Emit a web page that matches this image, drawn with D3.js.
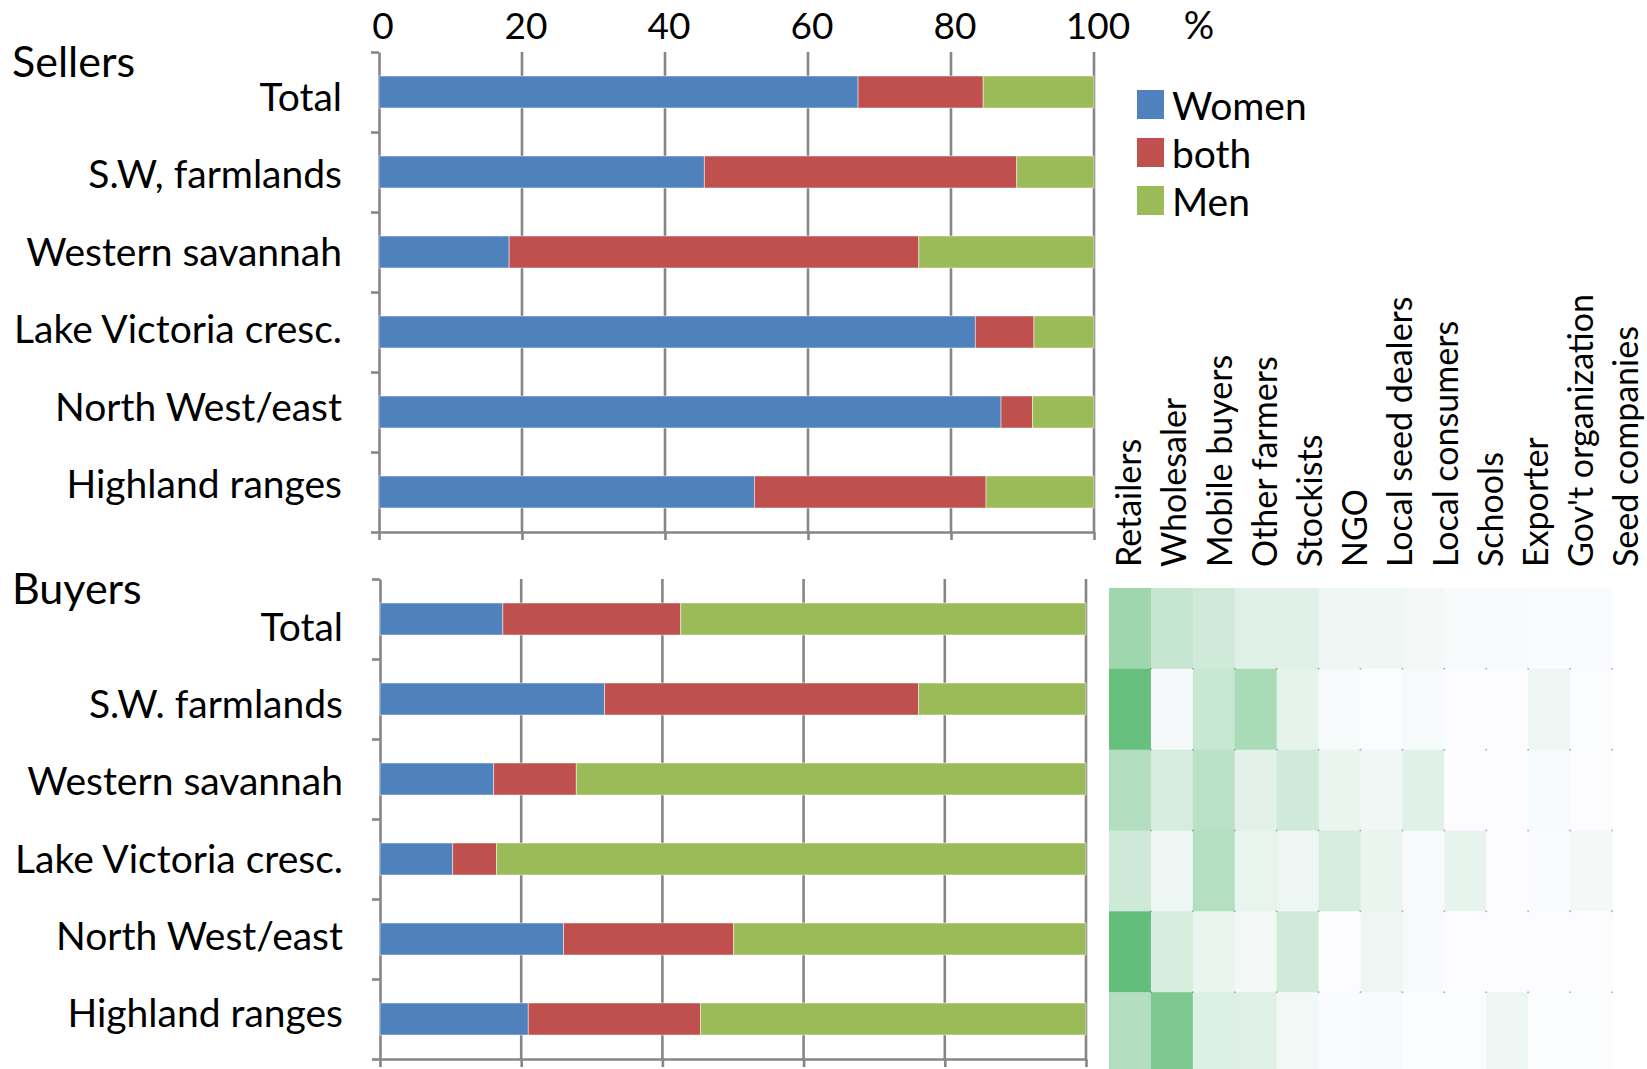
<!DOCTYPE html>
<html>
<head>
<meta charset="utf-8">
<script src="https://cdn.jsdelivr.net/npm/d3@7"></script>
<style>
  body { margin: 0; background: #fff; }
  svg text { font-family: Lato, "Open Sans", sans-serif; fill: #000; }
</style>
</head>
<body>
<div id="chart"></div>
<script>
// categories
var sellerRegions = ["Total", "S.W, farmlands", "Western savannah", "Lake Victoria cresc.", "North West/east", "Highland ranges"];
var buyerRegions = ["Total", "S.W. farmlands", "Western savannah", "Lake Victoria cresc.", "North West/east", "Highland ranges"];
var groups = ["Women", "both", "Men"];
var groupColors = ["#4F81BD", "#C0504D", "#9BBB59"];
var xTicks = [0, 20, 40, 60, 80, 100];

// sellers, % per region
var sellersWomen = [67.0, 45.5, 18.2, 83.4, 87.0, 52.5];
var sellersBoth  = [17.5, 43.7, 57.3, 8.2, 4.4, 32.4];
var sellersMen   = [15.5, 10.8, 24.5, 8.4, 8.6, 15.1];

// buyers, % per region
var buyersWomen = [17.4, 31.8, 16.1, 10.3, 26.0, 21.0];
var buyersBoth  = [25.2, 44.5, 11.7, 6.2, 24.1, 24.4];
var buyersMen   = [57.4, 23.7, 72.2, 83.5, 49.9, 54.6];

// buyer types (heat map columns)
var buyerTypes = ["Retailers", "Wholesaler", "Mobile buyers", "Other farmers", "Stockists", "NGO",
  "Local seed dealers", "Local consumers", "Schools", "Exporter", "Gov't organization", "Seed companies"];

// heat map shares, one row per buyer region
var heatTotal    = [61, 35, 29, 19, 18, 9, 8.5, 6, 4, 3, 2, 1];
var heatSW       = [97, 4.5, 34, 54, 15, 4, 0.5, 3, 0, 0, 9, 0.5];
var heatWestern  = [48, 25, 44, 17, 29, 11, 8, 18, 0, 0, 3, 0];
var heatLake     = [30, 9, 47, 13, 9, 25, 12, 3, 14, 0, 1, 5];
var heatNorth    = [100, 25, 11, 6, 29, 0, 10, 3, 0, 0, 0, 0];
var heatHighland = [48, 83, 20, 19, 7, 1, 3, 0.5, 0.5, 9, 0.5, 0.5];
var heatRows = [heatTotal, heatSW, heatWestern, heatLake, heatNorth, heatHighland];

var width = 1647, height = 1069;
var gridColor = "#868686";

var svg = d3.select("#chart").append("svg")
    .attr("width", width)
    .attr("height", height);

// build stacked rows for a panel
function stackRows(regions, women, both, men) {
  var rows = regions.map(function(r, i) {
    return { region: r, Women: women[i], both: both[i], Men: men[i] };
  });
  return d3.stack().keys(groups)(rows);
}

function panel(opts) {
  var x = d3.scaleLinear().domain([0, 100]).range([opts.x0, opts.x1]);
  var y = d3.scaleBand().domain(opts.regions)
      .range([opts.top, opts.bottom])
      .paddingInner(0.6).paddingOuter(0.3);
  // labels sit a bit tighter than the bars
  var yl = d3.scalePoint().domain(opts.regions).range(opts.labelRange);

  var g = svg.append("g");

  // vertical gridlines
  g.append("g").selectAll("line")
      .data(xTicks.slice(1))
      .enter().append("line")
      .attr("x1", d => x(d)).attr("x2", d => x(d))
      .attr("y1", opts.top).attr("y2", opts.bottom)
      .attr("stroke", gridColor)
      .attr("stroke-width", 2.6);

  // bottom axis, tick marks only
  var xAxis = g.append("g")
      .attr("transform", `translate(0, ${opts.bottom})`)
      .call(d3.axisBottom(x).tickValues(xTicks).tickSize(8).tickSizeOuter(0).tickFormat(""));
  xAxis.selectAll("path, line").attr("stroke", gridColor).attr("stroke-width", 2.6);

  // left axis with ticks between categories
  var cat = d3.scaleLinear().domain([0, opts.regions.length]).range([opts.top, opts.bottom]);
  var yAxis = g.append("g")
      .attr("transform", `translate(${opts.x0}, 0)`)
      .call(d3.axisLeft(cat).ticks(opts.regions.length).tickSize(8).tickSizeOuter(0).tickFormat(""));
  yAxis.selectAll("path, line").attr("stroke", gridColor).attr("stroke-width", 2.6);

  // stacked bars
  var layers = g.append("g").selectAll("g")
      .data(stackRows(opts.regions, opts.women, opts.both, opts.men))
      .enter().append("g")
      .attr("fill", (d, i) => groupColors[i]);

  layers.selectAll("rect")
      .data(d => d)
      .enter().append("rect")
      .attr("x", d => x(d[0]))
      .attr("y", d => y(d.data.region))
      .attr("width", d => x(d[1]) - x(d[0]))
      .attr("height", y.bandwidth())
      .attr("stroke", "#fff")
      .attr("stroke-width", 0.8)
      .attr("stroke-opacity", 0.6);

  // category labels
  g.append("g").selectAll("text")
      .data(opts.regions)
      .enter().append("text")
      .attr("x", opts.x0 - 37)
      .attr("y", d => yl(d))
      .attr("text-anchor", "end")
      .attr("font-size", 39)
      .text(d => d);

  // panel title
  g.append("text")
      .attr("x", 12)
      .attr("y", opts.top + 25)
      .attr("font-size", 43)
      .text(opts.title);

  return x;
}

var xTop = panel({
  title: "Sellers", regions: sellerRegions,
  women: sellersWomen, both: sellersBoth, men: sellersMen,
  x0: 379, x1: 1094, top: 52, bottom: 532, labelRange: [111, 498]
});

panel({
  title: "Buyers", regions: buyerRegions,
  women: buyersWomen, both: buyersBoth, men: buyersMen,
  x0: 380, x1: 1086, top: 579, bottom: 1059, labelRange: [641, 1027]
});

// top tick labels (Excel draws them a little right of the gridline)
svg.append("g").selectAll("text")
    .data(xTicks)
    .enter().append("text")
    .attr("x", d => xTop(d) + 4)
    .attr("y", 39)
    .attr("text-anchor", "middle")
    .attr("font-size", 37)
    .text(d => d);

svg.append("text")
    .attr("x", 1199)
    .attr("y", 39)
    .attr("text-anchor", "middle")
    .attr("font-size", 38)
    .text("%");

// legend
var legend = svg.append("g").selectAll("g")
    .data(groups)
    .enter().append("g")
    .attr("transform", (d, i) => `translate(1137, ${90 + i * 48})`);

legend.append("rect")
    .attr("width", 27).attr("height", 29)
    .attr("fill", (d, i) => groupColors[i]);

legend.append("text")
    .attr("x", 35)
    .attr("y", 30)
    .attr("font-size", 39)
    .text(d => d);

// heat map
var hx = d3.scaleBand().domain(buyerTypes).range([1109, 1612]);
var hy = d3.scaleBand().domain(buyerRegions).range([588, 1073]);
var heatColor = d3.scaleLinear().domain([0, 100]).range(["#FCFCFF", "#63BE7B"]);

var cells = [];
heatRows.forEach(function(row, r) {
  row.forEach(function(v, c) {
    cells.push({ region: buyerRegions[r], type: buyerTypes[c], value: v });
  });
});

svg.append("g").selectAll("rect")
    .data(cells)
    .enter().append("rect")
    .attr("x", d => hx(d.type))
    .attr("y", d => hy(d.region))
    .attr("width", hx.bandwidth() + 0.5)
    .attr("height", hy.bandwidth() + 0.5)
    .attr("fill", d => heatColor(d.value));

// little corner marks between cells
svg.append("g").selectAll("circle")
    .data(cells.filter(d => d.region != buyerRegions[buyerRegions.length - 1]))
    .enter().append("circle")
    .attr("cx", d => hx(d.type) + hx.bandwidth())
    .attr("cy", d => hy(d.region) + hy.bandwidth())
    .attr("r", 1)
    .attr("fill", "#777")
    .attr("opacity", 0.5);

// heat map column labels (rotated)
var lx = d3.scalePoint().domain(buyerTypes).range([1129, 1626]);
svg.append("g").selectAll("text")
    .data(buyerTypes)
    .enter().append("text")
    .attr("transform", d => `translate(${lx(d)}, 567) rotate(-90)`)
    .attr("dy", "0.36em")
    .attr("font-size", 34)
    .text(d => d);
</script>
</body>
</html>
